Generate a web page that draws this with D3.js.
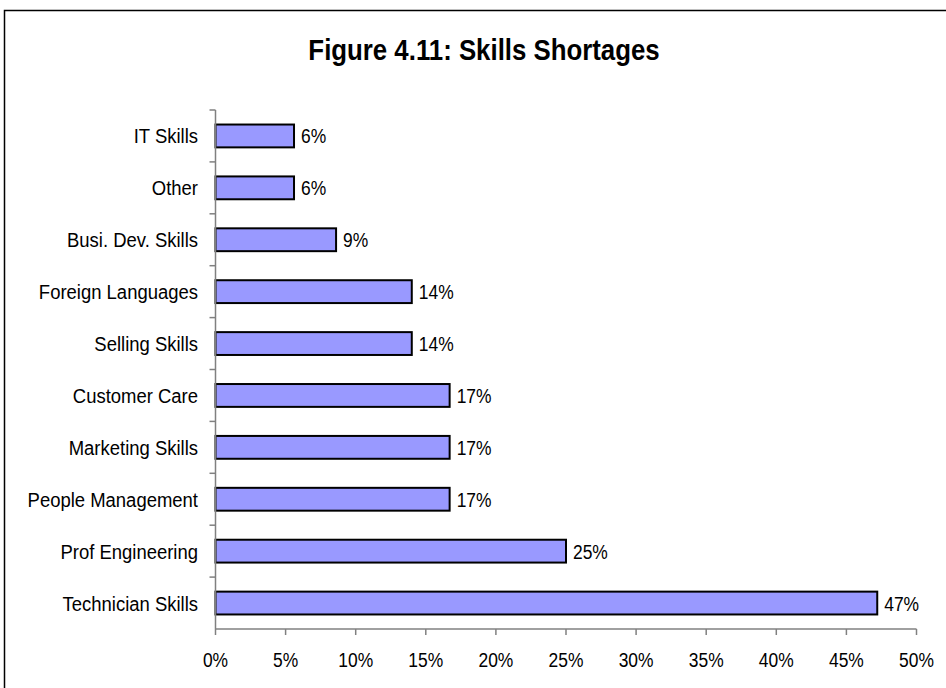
<!DOCTYPE html>
<html>
<head>
<meta charset="utf-8">
<script src="https://cdn.jsdelivr.net/npm/d3@7"></script>
<style>
  html, body { margin: 0; padding: 0; background: #fff; }
  svg { display: block; }
  text { font-family: "Liberation Sans", Arial, sans-serif; fill: #000; }
</style>
</head>
<body>
<svg id="chart" width="946" height="688"></svg>
<script>
// Skills in short supply, top row first
const categories = [
  "IT Skills", "Other", "Busi. Dev. Skills", "Foreign Languages", "Selling Skills",
  "Customer Care", "Marketing Skills", "People Management", "Prof Engineering", "Technician Skills"
];
// Share of respondents reporting each shortage
const shares = [
  0.056, 0.056, 0.086, 0.14, 0.14,
  0.167, 0.167, 0.167, 0.25, 0.472
];
const xTicks = [0, 0.05, 0.10, 0.15, 0.20, 0.25, 0.30, 0.35, 0.40, 0.45, 0.50];
const title = "Figure 4.11: Skills Shortages";

const svg = d3.select("#chart");
const pct = d3.format(".0%");

// Outer chart frame (runs past the right and bottom edges)
svg.append("rect")
  .attr("x", 4.5).attr("y", 10.5)
  .attr("width", 960).attr("height", 700)
  .attr("fill", "#fff").attr("stroke", "#000").attr("stroke-width", 1.5);

const x = d3.scaleLinear().domain([0, 0.5]).range([215.5, 916.5]);
const y = d3.scaleBand().domain(categories).range([110, 629])
  .paddingInner(0.56).paddingOuter(0.28);

// Text drawn with a narrow horizontal scale
function narrowText(sel, px, py, str, size, sx, anchor, weight) {
  return sel.append("text")
    .attr("transform", `translate(${px},${py}) scale(${sx},1)`)
    .attr("text-anchor", anchor)
    .attr("font-size", size)
    .attr("font-weight", weight || "normal")
    .text(str);
}

// Title
narrowText(svg, 484, 60, title, 29, 0.89, "middle", "bold");

// Bars
svg.append("g").selectAll("rect")
  .data(categories)
  .join("rect")
  .attr("x", x(0))
  .attr("y", d => y(d))
  .attr("width", (d, i) => x(shares[i]) - x(0))
  .attr("height", y.bandwidth())
  .attr("fill", "#9999FF")
  .attr("stroke", "#000")
  .attr("stroke-width", 2);

// Value labels
const vg = svg.append("g");
categories.forEach((c, i) => {
  narrowText(vg, x(shares[i]) + 7, y(c) + y.bandwidth() / 2 + 7.5, pct(shares[i]), 21, 0.83, "start");
});

// Category axis: line plus outward ticks between bands
const axisColor = "#808080";
svg.append("line")
  .attr("x1", x(0)).attr("x2", x(0))
  .attr("y1", 110).attr("y2", 629)
  .attr("stroke", axisColor).attr("stroke-width", 1.5);
const step = y.step();
const bandEdges = d3.range(categories.length).map(i => 110 + i * step);
svg.append("g").selectAll("line")
  .data(bandEdges)
  .join("line")
  .attr("x1", x(0) - 6).attr("x2", x(0))
  .attr("y1", d => d).attr("y2", d => d)
  .attr("stroke", axisColor).attr("stroke-width", 1.5);
const cg = svg.append("g");
categories.forEach(c => {
  narrowText(cg, x(0) - 17.5, y(c) + y.bandwidth() / 2 + 7.5, c, 21, 0.88, "end");
});

// Value axis
svg.append("line")
  .attr("x1", x(0)).attr("x2", x(0.5))
  .attr("y1", 629).attr("y2", 629)
  .attr("stroke", axisColor).attr("stroke-width", 1.5);
svg.append("g").selectAll("line")
  .data(xTicks)
  .join("line")
  .attr("x1", d => x(d)).attr("x2", d => x(d))
  .attr("y1", 629).attr("y2", 635)
  .attr("stroke", axisColor).attr("stroke-width", 1.5);
const tg = svg.append("g");
xTicks.forEach(t => {
  narrowText(tg, x(t), 667, pct(t), 21, 0.83, "middle");
});
</script>
</body>
</html>
